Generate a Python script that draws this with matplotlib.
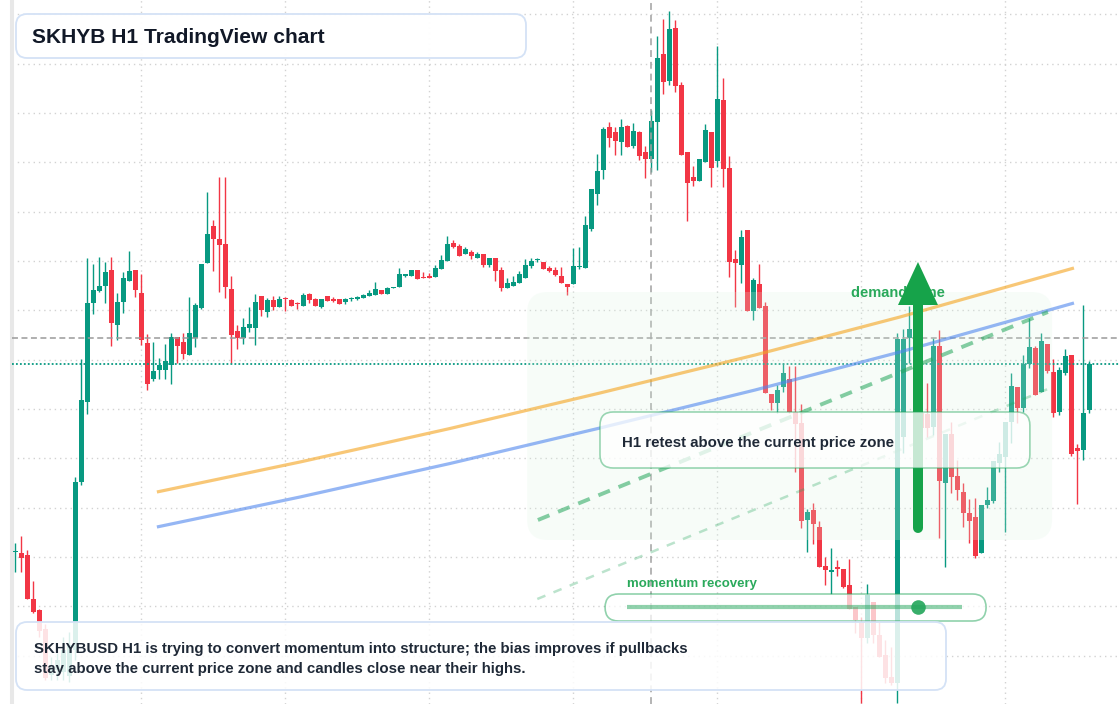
import matplotlib
matplotlib.use("Agg")
import matplotlib.pyplot as plt
from matplotlib.patches import FancyBboxPatch, Polygon
from matplotlib.transforms import IdentityTransform
import numpy as np

plt.rcParams['font.family'] = ['Liberation Sans', 'DejaVu Sans']

# hourly candles (arbitrary price units)
opens = [15.2, 15.1, 14.9, 10.5, 9.4, 7.5, 2.9, 3.4, 3.2, 2.8,
         5.4, 22.2, 30.2, 40.1, 41.3, 41.8, 43.4, 37.9, 40.2, 42.3,
         43.4, 41.1, 36.1, 32.5, 33.4, 33.4, 33.9, 36.7, 36.2, 34.9,
         36.6, 39.6, 44.1, 47.8, 46.5, 46.0, 41.5, 37.3, 36.6, 37.6,
         37.6, 40.8, 39.2, 40.4, 39.7, 40.6, 40.4, 40.1, 39.8, 41.0,
         40.5, 39.7, 40.8, 40.5, 40.5, 40.2, 40.5, 40.5, 40.6, 40.8,
         40.9, 41.4, 41.0, 41.6, 41.7, 42.8, 42.8, 43.4, 42.7, 42.8,
         42.7, 43.5, 44.3, 46.1, 45.8, 45.0, 45.2, 44.6, 45.0, 43.9,
         44.6, 43.4, 41.6, 41.8, 42.1, 42.6, 43.8, 44.4, 44.2, 43.6,
         43.4, 42.8, 42.0, 42.0, 43.7, 43.6, 47.5, 51.0, 53.4, 57.7,
         57.2, 56.2, 57.8, 55.8, 57.2, 55.2, 54.5, 58.2, 65.0, 62.3,
         67.6, 61.9, 55.2, 52.7, 52.3, 54.2, 57.2, 54.3, 60.4, 53.6,
         44.5, 43.9, 47.4, 39.3, 42.0, 39.8, 31.0, 30.1, 31.7, 32.5,
         29.2, 28.1, 18.4, 19.4, 17.7, 13.8, 13.2, 13.7, 13.5, 11.9,
         9.7, 8.2, 6.6, 10.2, 6.9, 4.9, 2.7, 2.1, 26.7, 36.6,
         37.4, 29.1, 29.0, 27.7, 35.8, 22.1, 27.0, 22.8, 21.2, 19.1,
         18.7, 15.1, 19.9, 20.3, 24.1, 24.7, 28.2, 31.7, 29.6, 34.0,
         35.6, 31.2, 36.0, 33.2, 29.2, 33.1, 34.9, 25.6, 25.4, 29.4]
highs = [16.1, 16.8, 15.4, 12.3, 9.5, 8.0, 4.7, 5.1, 6.7, 7.2,
         22.7, 34.5, 44.6, 44.0, 44.7, 44.2, 44.7, 41.1, 43.2, 45.3,
         43.4, 43.0, 37.0, 36.2, 34.6, 36.0, 37.1, 36.7, 37.1, 40.7,
         40.1, 44.0, 51.2, 48.4, 52.7, 52.7, 42.8, 37.9, 38.6, 39.7,
         41.0, 40.8, 40.6, 40.8, 40.8, 40.7, 40.5, 40.2, 41.1, 41.1,
         40.6, 40.5, 40.8, 40.7, 40.5, 40.6, 40.7, 40.8, 41.0, 41.4,
         42.2, 41.4, 41.7, 41.7, 43.6, 43.0, 43.4, 43.4, 43.2, 43.1,
         43.9, 44.9, 46.8, 46.4, 46.0, 45.7, 45.4, 45.2, 45.0, 44.6,
         44.6, 43.7, 42.6, 42.8, 43.3, 44.5, 44.6, 44.6, 44.2, 43.8,
         43.7, 43.7, 42.0, 45.6, 45.7, 48.8, 51.5, 55.0, 57.7, 58.2,
         57.7, 58.5, 57.9, 58.1, 57.3, 55.8, 59.4, 66.8, 68.5, 69.3,
         68.4, 62.2, 55.2, 53.8, 54.5, 58.0, 57.2, 65.8, 62.6, 54.8,
         45.4, 47.4, 47.4, 42.6, 44.0, 40.2, 31.0, 31.9, 34.1, 33.8,
         33.8, 30.0, 19.5, 20.1, 18.3, 14.7, 15.6, 14.4, 13.5, 14.5,
         9.7, 8.7, 12.0, 10.2, 8.2, 6.4, 5.7, 37.1, 37.5, 39.8,
         37.9, 30.4, 32.1, 36.6, 37.4, 27.0, 28.2, 24.4, 22.1, 20.5,
         20.6, 19.9, 21.7, 24.3, 26.2, 28.2, 33.1, 31.7, 34.9, 38.6,
         35.8, 37.1, 36.0, 34.5, 33.7, 35.5, 34.9, 26.0, 39.9, 34.3]
lows = [13.2, 13.2, 10.5, 9.1, 6.7, 2.4, 2.4, 2.4, 2.4, 2.2,
        4.4, 21.9, 29.0, 39.0, 41.2, 40.1, 35.8, 36.4, 39.1, 42.3,
        40.7, 35.9, 31.4, 32.3, 32.5, 32.5, 32.0, 34.1, 34.5, 34.9,
        35.7, 39.5, 44.1, 43.3, 41.2, 40.6, 34.1, 35.5, 36.0, 37.2,
        35.9, 38.8, 38.7, 39.4, 39.7, 39.3, 39.8, 39.5, 39.8, 40.1,
        39.8, 39.6, 40.3, 40.2, 40.0, 40.0, 40.3, 40.4, 40.6, 40.8,
        40.9, 41.0, 41.0, 41.6, 41.7, 42.7, 42.8, 42.5, 42.6, 42.6,
        42.7, 43.5, 44.3, 45.6, 44.8, 45.0, 44.5, 44.6, 43.7, 43.7,
        42.3, 41.3, 41.6, 41.8, 42.1, 42.6, 43.6, 44.2, 43.5, 43.2,
        42.8, 42.1, 40.9, 42.0, 43.5, 43.6, 47.3, 49.9, 52.5, 55.7,
        54.9, 54.9, 55.7, 55.6, 54.4, 52.6, 53.2, 53.4, 61.0, 61.9,
        61.2, 54.9, 48.3, 51.8, 52.3, 54.2, 51.7, 53.7, 51.7, 42.7,
        39.7, 42.1, 39.3, 38.4, 39.6, 31.1, 29.4, 29.1, 31.2, 29.1,
        23.2, 17.6, 15.2, 16.0, 13.7, 11.9, 11.0, 12.8, 11.6, 9.5,
        7.1, 0.1, 6.1, 6.1, 4.7, 2.1, 1.9, 0.1, 25.1, 34.1,
        26.4, 26.4, 26.7, 26.9, 16.6, 13.7, 21.1, 20.4, 17.7, 16.1,
        14.6, 15.1, 19.6, 20.1, 23.2, 17.2, 26.1, 28.1, 29.2, 33.6,
        30.9, 31.2, 33.1, 28.7, 28.9, 32.9, 24.8, 20.0, 24.4, 29.1]
closes = [15.3, 14.6, 10.5, 9.2, 7.3, 2.6, 3.9, 4.4, 5.4, 5.9,
          22.2, 30.4, 40.1, 41.4, 41.8, 43.2, 38.1, 40.2, 42.6, 43.3,
          41.4, 36.4, 32.0, 33.3, 33.9, 34.3, 36.7, 35.8, 35.0, 37.1,
          39.9, 44.0, 47.0, 46.5, 45.9, 41.7, 36.9, 36.6, 37.7, 38.0,
          40.2, 39.4, 40.4, 39.7, 40.5, 40.5, 39.8, 40.0, 40.9, 40.4,
          39.8, 40.5, 40.3, 40.3, 40.0, 40.5, 40.6, 40.7, 40.9, 41.1,
          41.5, 41.0, 41.6, 41.7, 43.0, 43.0, 43.4, 42.5, 42.6, 42.6,
          43.6, 44.4, 46.0, 45.7, 44.8, 45.5, 44.8, 45.0, 43.9, 44.6,
          43.3, 41.6, 42.1, 42.2, 43.0, 43.9, 44.3, 44.5, 43.5, 43.3,
          42.9, 42.1, 41.7, 43.8, 43.8, 47.9, 51.5, 53.3, 57.5, 56.6,
          56.3, 57.7, 55.7, 57.3, 54.8, 54.5, 58.3, 64.6, 62.2, 67.5,
          61.8, 54.9, 52.1, 52.3, 54.5, 57.4, 53.6, 60.5, 53.5, 44.2,
          44.1, 46.7, 39.3, 42.4, 39.6, 31.1, 30.1, 31.4, 33.1, 29.2,
          28.0, 18.3, 19.2, 18.0, 13.7, 13.4, 13.4, 13.5, 11.7, 9.5,
          8.4, 6.6, 10.9, 6.9, 4.7, 2.6, 2.1, 36.5, 36.5, 37.5,
          27.9, 27.6, 27.6, 35.8, 22.3, 27.0, 22.7, 21.4, 19.1, 18.3,
          14.8, 19.9, 20.4, 24.3, 25.0, 28.2, 31.8, 29.6, 34.0, 35.7,
          30.9, 36.3, 33.3, 29.1, 33.4, 34.8, 25.0, 25.3, 29.1, 34.0]

ref_level = 36.6      # grey dashed level
last_price = 34.0     # teal dotted price line
marker_bar = 106      # grey dashed vertical marker

# trend curves (bar index, price)
curve_x = [23.6, 47.45, 72.45, 97.45, 123.3, 147.45, 176.45]
orange_y = [21.2, 24.2, 27.55, 31.1, 34.9, 38.7, 43.6]
blue_y = [17.7, 20.7, 24.05, 27.6, 31.4, 35.2, 40.1]
support_x = [87.1, 172.1]
support_y = [18.4, 39.2]
support2_x = [87.0, 172.1]
support2_y = [10.5, 31.5]

zone_x = [85.3, 172.8]
zone_y = [16.4, 41.2]
arrow_x = 150.45
arrow_y = [17.6, 39.9, 44.2]

GREEN = '#089981'
RED = '#f23645'
DARK = '#1f2937'
LABEL_GREEN = '#2aa95b'

fig = plt.figure(figsize=(11.2, 7.04), dpi=100)
fig.patch.set_facecolor('white')
ax = fig.add_axes([12 / 1120, 0, 1 - 12 / 1120, 1])
ax.set_xlim(-0.55, 184.12)
ax.set_ylim(0, 70.4)

# grid
ax.set_xticks(np.arange(21, 185, 24))
ax.set_yticks(np.arange(4.83, 70.4, 4.933))
ax.tick_params(length=0, labelleft=False, labelbottom=False)
ax.grid(True, color='#d2d2d2', linestyle=(0, (1, 2.8)), linewidth=1.0, zorder=0)
ax.set_axisbelow(True)
for s in ['top', 'right', 'bottom']:
    ax.spines[s].set_visible(False)
ax.spines['left'].set_color('#e8e8e8')
ax.spines['left'].set_linewidth(2.9)

# candles
o = np.array(opens)
h = np.array(highs)
l = np.array(lows)
c = np.array(closes)
idx = np.arange(len(o))
cols = np.where(c >= o, GREEN, RED)
ax.vlines(idx, l, h, colors=cols, linewidth=1.0, zorder=3)
ax.bar(idx, np.maximum(np.abs(c - o), 0.12), 0.78, bottom=np.minimum(o, c),
       color=cols, linewidth=0, zorder=4)

# reference lines
ax.axhline(ref_level, color='#9a9a9a', linewidth=1.1, linestyle=(0, (3.9, 2.3)), zorder=5)
ax.axhline(last_price, color=GREEN, linewidth=1.3, linestyle=(0, (1, 1.2)), zorder=5)
ax.axvline(marker_bar, color='#a0a0a0', linewidth=1.1, linestyle=(0, (4.5, 3.2)), zorder=5)

# demand zone
zone = FancyBboxPatch((zone_x[0], zone_y[0]), zone_x[1] - zone_x[0], zone_y[1] - zone_y[0],
                      boxstyle='round,pad=0,rounding_size=3.4', mutation_aspect=0.6,
                      facecolor='#dcf5e3', edgecolor='none', alpha=0.22, zorder=5.5)
ax.add_patch(zone)

# trend curves
ax.plot(curve_x, orange_y, color='#f5a623', alpha=0.62, linewidth=2.3,
        solid_capstyle='butt', solid_joinstyle='round', zorder=6)
ax.plot(curve_x, blue_y, color='#4f86ee', alpha=0.6, linewidth=2.3,
        solid_capstyle='butt', solid_joinstyle='round', zorder=6)
ax.plot(support_x, support_y, color='#22a55a', alpha=0.55, linewidth=2.8,
        linestyle=(0, (3.2, 2.4)), zorder=6)
ax.plot(support2_x, support2_y, color='#22a55a', alpha=0.3, linewidth=1.8,
        linestyle=(0, (3.5, 3.5)), zorder=6)

ax.text(139.3, 41.1, 'demand zone', color=LABEL_GREEN, fontsize=10.5,
        fontweight='bold', ha='left', va='center', zorder=7)

# arrow
ax.plot([arrow_x, arrow_x], [arrow_y[0], arrow_y[1] + 0.5], color='#16a34a',
        linewidth=7.2, solid_capstyle='round', zorder=8)
ax.add_patch(Polygon([(arrow_x - 3.33, arrow_y[1]), (arrow_x + 3.33, arrow_y[1]),
                      (arrow_x, arrow_y[2])], closed=True, facecolor='#16a34a',
                     edgecolor='none', zorder=8))

# retest callout
retest = FancyBboxPatch((97.45, 23.6), 71.65, 5.6, boxstyle='round,pad=0,rounding_size=2.2',
                        mutation_aspect=0.6, facecolor=(1, 1, 1, 0.76),
                        edgecolor=(0.133, 0.647, 0.353, 0.45), linewidth=1.2, zorder=9)
ax.add_patch(retest)
ax.text(101.1, 25.75, 'H1 retest above the current price zone', color=DARK,
        fontsize=10.8, fontweight='bold', ha='left', va='baseline', zorder=10)

# momentum slider
mom = FancyBboxPatch((98.3, 8.3), 63.5, 2.7, boxstyle='round,pad=0,rounding_size=2.25',
                     mutation_aspect=0.6, facecolor=(1, 1, 1, 0.72),
                     edgecolor=(0.133, 0.647, 0.353, 0.5), linewidth=1.2, zorder=9)
ax.add_patch(mom)
ax.plot([101.95, 157.8], [9.7, 9.7], color='#22a55a', alpha=0.5, linewidth=3.0,
        solid_capstyle='butt', zorder=10)
ax.plot([arrow_x], [9.7], 'o', color='#22a55a', alpha=0.9, markersize=10.5,
        markeredgewidth=0, zorder=10)
ax.text(101.95, 12.05, 'momentum recovery', color=LABEL_GREEN, fontsize=9.5,
        fontweight='bold', ha='left', va='center', zorder=10)

# title and summary boxes (pixel layout)
def px_box(x0, y0, x1, y1, alpha):
    return FancyBboxPatch((x0, 704 - y1), x1 - x0, y1 - y0,
                          boxstyle='round,pad=0,rounding_size=11',
                          facecolor=(1, 1, 1, alpha), edgecolor='#d4e2f6',
                          linewidth=1.3, transform=IdentityTransform(), zorder=11)

fig.patches.append(px_box(16, 14, 526, 58, 0.97))
fig.text(32 / 1120, 1 - 42.8 / 704, 'SKHYB H1 TradingView chart', color='#111827',
         fontsize=15.1, fontweight='bold', ha='left', va='baseline', zorder=12)

fig.patches.append(px_box(16, 622, 946, 690, 0.86))
fig.text(34 / 1120, 1 - 653.3 / 704,
         'SKHYBUSD H1 is trying to convert momentum into structure; the bias improves if pullbacks',
         color=DARK, fontsize=10.8, fontweight='bold', ha='left', va='baseline', zorder=12)
fig.text(34 / 1120, 1 - 673.3 / 704,
         'stay above the current price zone and candles close near their highs.',
         color=DARK, fontsize=10.8, fontweight='bold', ha='left', va='baseline', zorder=12)

fig.savefig('out.png', dpi=100, facecolor='white')
